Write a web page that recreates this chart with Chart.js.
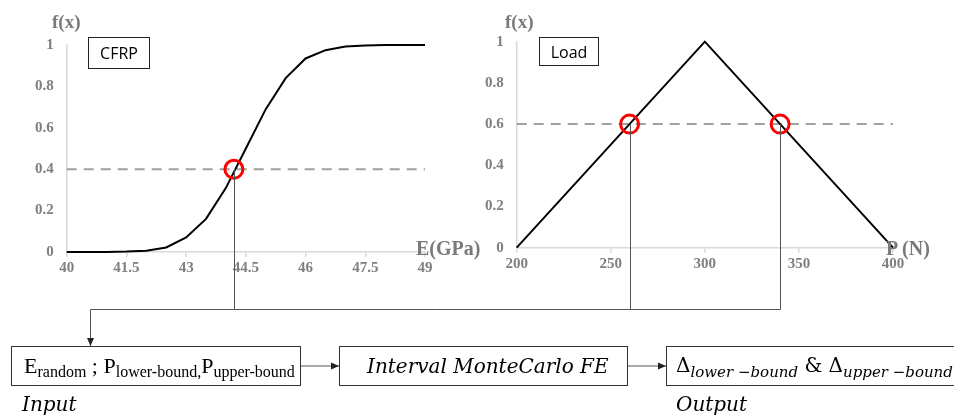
<!DOCTYPE html>
<html>
<head>
<meta charset="utf-8">
<script src="https://cdn.jsdelivr.net/npm/chart.js@4"></script>
<style>
  body { margin: 0; width: 954px; height: 417px; overflow: hidden; background: #fff; position: relative; }
  .wrap { position: absolute; top: 0; }
  .lbl { position: absolute; font-family: "Liberation Serif", serif; font-weight: bold; color: #7a7a7a; white-space: nowrap; }
  .tag { position: absolute; border: 1.5px solid #222; font-family: "Open Sans", sans-serif; font-size: 16px;
         display: flex; align-items: center; justify-content: center; box-sizing: border-box; }
  .box { position: absolute; top: 346px; height: 40px; border: 1.5px solid #333; box-sizing: border-box;
         display: flex; align-items: center; white-space: nowrap; }
  .tnr { font-family: "Liberation Serif", serif; font-size: 22px; }
  .tnr sub { font-size: 16px; vertical-align: -4px; line-height: 1; }
  .math { font-family: "DejaVu Serif", serif; font-size: 20px; }
  .math sub { font-size: 15px; font-style: italic; vertical-align: -5px; line-height: 1; }
  .cap { position: absolute; top: 392px; font-family: "DejaVu Serif", serif; font-style: italic; font-size: 20px; }
  #links { position: absolute; left: 0; top: 0; pointer-events: none; }
</style>
</head>
<body>
<div class="wrap" style="left:0;width:440px;height:280px"><canvas id="cfrp"></canvas></div>
<div class="wrap" style="left:440px;width:514px;height:280px"><canvas id="load"></canvas></div>
<canvas id="links" width="954" height="417"></canvas>

<div class="lbl" style="left:52px;top:11px;font-size:19px">f(x)</div>
<div class="lbl" style="left:505px;top:11px;font-size:19px">f(x)</div>
<div class="lbl" style="left:416px;top:237px;font-size:20px">E(GPa)</div>
<div class="lbl" style="left:886px;top:237px;font-size:20px">P (N)</div>
<div class="tag" style="left:88px;top:37px;width:62px;height:32px">CFRP</div>
<div class="tag" style="left:539px;top:37px;width:60px;height:29px">Load</div>

<div class="box tnr" style="left:11px;width:290px;padding-left:12px"><span>E<sub>random</sub>&nbsp;;&nbsp;P<sub>lower-bound,</sub>P<sub>upper-bound</sub></span></div>
<div class="box math" style="left:339px;width:289px;padding-left:27px"><span><i>Interval MonteCarlo FE</i></span></div>
<div class="box math" style="left:666px;width:300px;padding-left:9px"><span>Δ<sub>lower −bound</sub>&nbsp;&amp;&nbsp;Δ<sub>upper −bound</sub></span></div>
<div class="cap" style="left:22px">Input</div>
<div class="cap" style="left:676px">Output</div>

<script>
// CFRP modulus, membership curve
const eValues = [40, 40.5, 41, 41.5, 42, 42.5, 43, 43.5, 44, 44.5, 45, 45.5, 46, 46.5, 47, 47.5, 48, 48.5, 49];
const cfrpValues = [0, 0, 0.0005, 0.002, 0.006, 0.022, 0.07, 0.16, 0.31, 0.5, 0.69, 0.84, 0.935, 0.975, 0.993, 0.998, 1, 1, 1];
const cfrpCut = 0.4;
const cfrpPicks = [44.2];

// load, triangular membership
const pValues = [200, 300, 400];
const loadValues = [0, 1, 0];
const loadCut = 0.6;
const loadPicks = [260, 340];

const yTicks = [0, 0.2, 0.4, 0.6, 0.8, 1];
const tickFont = { family: 'Liberation Serif', size: 15, weight: 'bold' };
const axisGray = '#d9d9d9';
const labelGray = '#7f7f7f';

let charts = {};

function xScale(min, max, step, h) {
  return {
    type: 'linear', min: min, max: max,
    ticks: { stepSize: step, font: tickFont, color: labelGray, padding: 2, maxRotation: 0 },
    grid: { drawOnChartArea: false, tickLength: 5, color: axisGray, lineWidth: 1.5 },
    border: { color: axisGray, width: 1.5 },
    afterFit: s => { s.height = h; }
  };
}
function yScale(w) {
  return {
    min: 0, max: 1,
    afterBuildTicks: s => { s.ticks = yTicks.map(v => ({ value: v })); },
    ticks: { font: tickFont, color: labelGray, padding: 13, callback: v => String(v) },
    grid: { drawOnChartArea: false, drawTicks: false },
    border: { color: axisGray, width: 1.5 },
    afterFit: s => { s.width = w; }
  };
}

function buildChart(id, xs, ys, cut, picks, xmin, xmax, step, pad, yw, xh) {
  const curve = xs.map((x, i) => ({ x: x, y: ys[i] }));
  return new Chart(document.getElementById(id), {
    type: 'scatter',
    data: {
      datasets: [
        { data: picks.map(x => ({ x: x, y: cut })), pointRadius: 9, borderWidth: 3,
          pointBorderColor: '#ff0000', pointBackgroundColor: 'rgba(0,0,0,0)', order: 0 },
        { data: curve, showLine: true, borderColor: '#000', borderWidth: 2, pointRadius: 0, order: 1 },
        { data: [{ x: xmin, y: cut }, { x: xmax, y: cut }], showLine: true, borderColor: '#a0a0a0',
          borderWidth: 2, borderDash: [10, 7], pointRadius: 0, order: 2 }
      ]
    },
    options: {
      responsive: true, maintainAspectRatio: false, animation: false, clip: false,
      layout: { padding: pad },
      plugins: { legend: { display: false }, tooltip: { enabled: false } },
      scales: { x: xScale(xmin, xmax, step, xh), y: yScale(yw) }
    },
    plugins: [{ id: 'links', afterRender: () => drawLinks() }]
  });
}

function drawLinks() {
  if (!charts.cfrp || !charts.load) return;
  const ctx = document.getElementById('links').getContext('2d');
  ctx.clearRect(0, 0, 954, 417);
  ctx.strokeStyle = '#555';
  ctx.fillStyle = '#222';
  ctx.lineWidth = 1;
  const busY = 309.5;
  const drops = [];
  [[charts.cfrp, 0, cfrpPicks, cfrpCut], [charts.load, 440, loadPicks, loadCut]].forEach(([c, off, picks, cut]) => {
    picks.forEach(p => {
      const x = Math.round(c.scales.x.getPixelForValue(p) + off) + 0.5;
      const y = c.scales.y.getPixelForValue(cut);
      drops.push(x);
      ctx.beginPath(); ctx.moveTo(x, y); ctx.lineTo(x, busY); ctx.stroke();
    });
  });
  const startX = 90.5;
  ctx.beginPath(); ctx.moveTo(startX, busY); ctx.lineTo(Math.max(...drops), busY); ctx.stroke();
  arrow(ctx, startX, busY, startX, 346);
  arrow(ctx, 301, 366, 339, 366);
  arrow(ctx, 628, 366, 666, 366);
}

function arrow(ctx, x1, y1, x2, y2) {
  ctx.beginPath(); ctx.moveTo(x1, y1); ctx.lineTo(x2, y2); ctx.stroke();
  const a = Math.atan2(y2 - y1, x2 - x1);
  ctx.beginPath();
  ctx.moveTo(x2, y2);
  ctx.lineTo(x2 - 8 * Math.cos(a) + 3.5 * Math.sin(a), y2 - 8 * Math.sin(a) - 3.5 * Math.cos(a));
  ctx.lineTo(x2 - 8 * Math.cos(a) - 3.5 * Math.sin(a), y2 - 8 * Math.sin(a) + 3.5 * Math.cos(a));
  ctx.closePath(); ctx.fill();
}

charts.cfrp = buildChart('cfrp', eValues, cfrpValues, cfrpCut, cfrpPicks, 40, 49, 1.5,
  { top: 45, right: 15, left: 0, bottom: 0 }, 66.7, 28);
charts.load = buildChart('load', pValues, loadValues, loadCut, loadPicks, 200, 400, 50,
  { top: 41.7, right: 61, left: 0, bottom: 0 }, 76.7, 32.3);
drawLinks();
</script>
</body>
</html>
